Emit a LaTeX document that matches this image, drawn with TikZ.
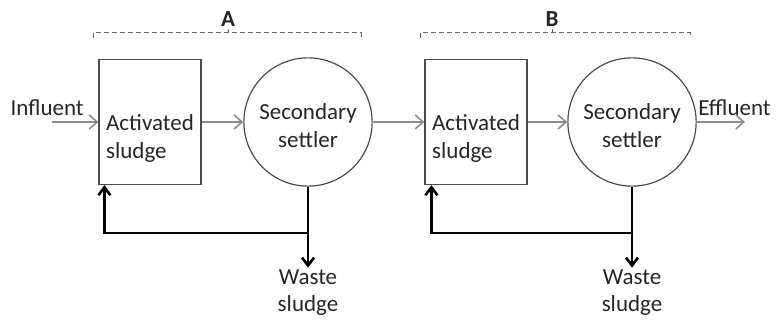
\documentclass[tikz,border=0pt]{standalone}
\usepackage{fontspec}
\setmainfont{Carlito}
\usetikzlibrary{arrows.meta}
\tikzset{
  every node/.style={font=\fontsize{11.5}{14}\selectfont},
  unit/.style={draw=black!70, line width=0.6pt, minimum width=51pt, minimum height=62.5pt, align=left, text=black!85, text height=38pt},
  settler/.style={circle, draw=black!70, line width=0.6pt, minimum size=64pt, align=center, text=black!85, text height=26pt},
  flow/.style={draw=black!45, line width=0.8pt, -{Straight Barb[length=4pt,width=7pt]}},
  recycle/.style={line width=1.3pt, -{Straight Barb[length=4pt,width=6pt]}},
  bracket/.style={draw=black!60, line width=0.5pt, dash pattern=on 2.5pt off 1.5pt},
  tag/.style={text=black!85, inner sep=1pt},
}
\begin{document}
\begin{tikzpicture}[x=0.5pt, y=0.5pt]
        %% Frame
        \useasboundingbox (0,0) rectangle (779,320);
        %% Stage A
        \node[unit]    (actA) at (150,198) {Activated\\sludge};
        \node[settler] (setA) at (308,198) {Secondary\\settler};
        %% Stage B
        \node[unit]    (actB) at (476,198) {Activated\\sludge};
        \node[settler] (setB) at (632,198) {Secondary\\settler};
        %% In and out
        \node[tag, anchor=east] (infl) at (86,212) {Influent};
        \node[tag, anchor=west] (effl) at (696,212) {Effluent};
        \coordinate (inA)  at (52,198);
        \coordinate (outB) at (745,198);
        %% Main flow
        \draw[flow] (inA)  -- (actA);
        \draw[flow] (actA) -- (setA);
        \draw[flow] (setA) -- (actB);
        \draw[flow] (actB) -- (setB);
        \draw[flow] (setB) -- (outB);
        %% Recycle and waste
        \coordinate (jA) at (308,87);
        \coordinate (jB) at (632,87);
        \node[tag, align=center, font=\fontsize{11.5}{13.5}\selectfont] (wasteA) at (308,27) {Waste\\sludge};
        \node[tag, align=center, font=\fontsize{11.5}{13.5}\selectfont] (wasteB) at (632,27) {Waste\\sludge};
        \draw[recycle] (setA.south) -- (jA) -| ([xshift=3pt]actA.south west);
        \draw[recycle] (setB.south) -- (jB) -| ([xshift=3.5pt]actB.south west);
        \draw[recycle] (jA) -- (wasteA);
        \draw[recycle] (jB) -- (wasteB);
        %% Brackets
        \draw[bracket] (93,282) -- (93,287) -- (361,287) -- (361,282);
        \draw[bracket] (228,287) -- (228,291);
        \node[tag, font=\fontsize{11.5}{14}\selectfont\bfseries] (labA) at (228,301) {A};
        \draw[bracket] (420,282) -- (420,287) -- (690,287) -- (690,282);
        \draw[bracket] (552,287) -- (552,291);
        \node[tag, font=\fontsize{11.5}{14}\selectfont\bfseries] (labB) at (552,301) {B};
    \end{tikzpicture}
\end{document}
